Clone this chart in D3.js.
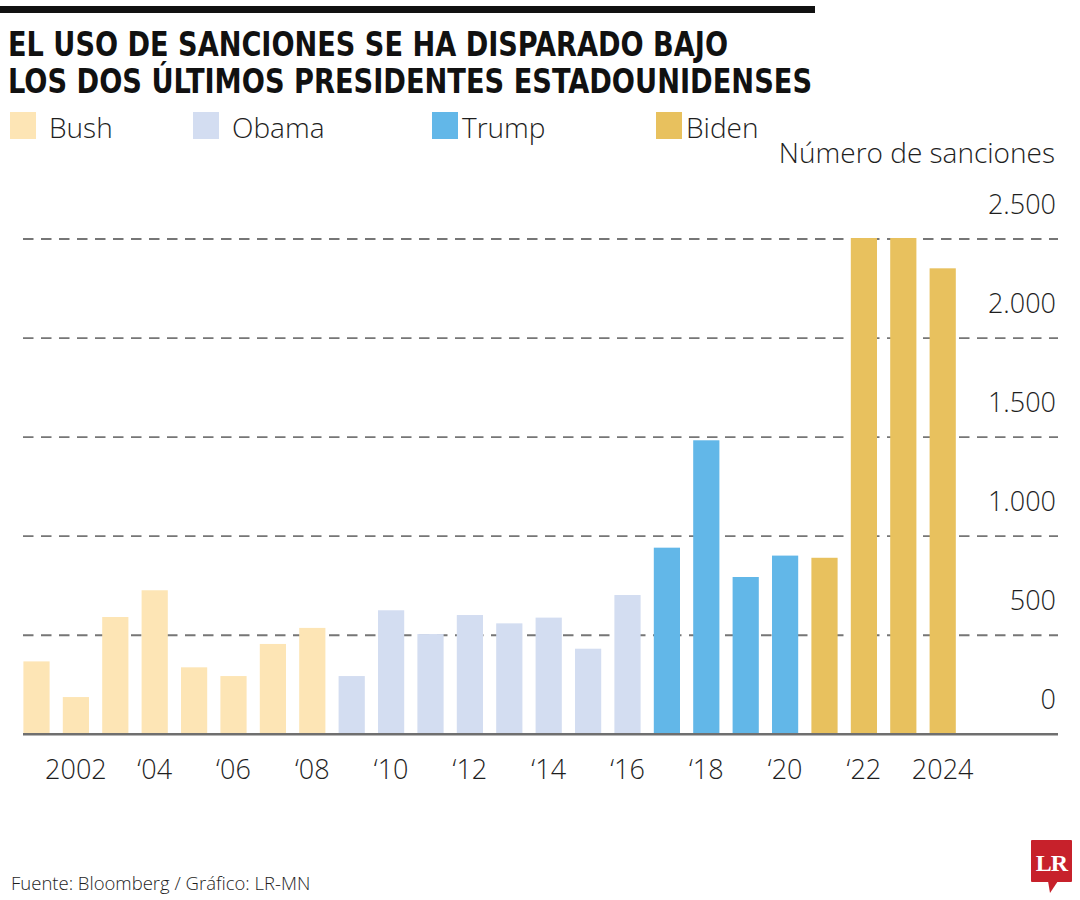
<!DOCTYPE html>
<html>
<head>
<meta charset="utf-8">
<script src="https://cdn.jsdelivr.net/npm/d3@7"></script>
<style>
  html, body { margin: 0; padding: 0; background: #fff; }
  svg { display: block; }
  .lt { font-family: "Open Sans", "Noto Sans", sans-serif; font-weight: 300; fill: #1e1e1e; }
</style>
</head>
<body>
<svg id="chart" width="1080" height="900"></svg>
<script>
// ---- Data ----
const years = [2001,2002,2003,2004,2005,2006,2007,2008,2009,2010,2011,2012,2013,2014,2015,2016,2017,2018,2019,2020,2021,2022,2023,2024];
const sanctions = [368,188,592,727,338,294,456,537,294,626,506,602,560,589,432,703,942,1484,794,902,891,2505,2505,2352];
const presidents = ["Bush","Obama","Trump","Biden"];
const presidentColors = ["#FDE5B5","#D3DDF1","#62B7E8","#E8C15E"];
const termStart = [2001,2009,2017,2021];
const yTicks = [0,500,1000,1500,2000,2500];
const xTickYears = [2002,2004,2006,2008,2010,2012,2014,2016,2018,2020,2022,2024];
const xTickLabels = ["2002","\u201804","\u201806","\u201808","\u201810","\u201812","\u201814","\u201816","\u201818","\u201820","\u201822","2024"];
const titleLines = ["EL USO DE SANCIONES SE HA DISPARADO BAJO","LOS DOS ÚLTIMOS PRESIDENTES ESTADOUNIDENSES"];
const unitLabel = "Número de sanciones";
const sourceText = "Fuente: Bloomberg / Gráfico: LR-MN";

const fmt = v => d3.format(",")(v).replace(/,/g, ".");
const presidentOf = yr => { let p = 0; termStart.forEach((s, i) => { if (yr >= s) p = i; }); return p; };

const svg = d3.select("#chart");

// Top rule
svg.append("rect").attr("x", 0).attr("y", 6).attr("width", 815).attr("height", 7).attr("fill", "#111");

// Title
const titleX = [8, 8], titleY = [55.5, 93], titleW = [720, 804];
titleLines.forEach((t, i) => {
  svg.append("text")
    .attr("x", titleX[i]).attr("y", titleY[i])
    .attr("textLength", titleW[i]).attr("lengthAdjust", "spacingAndGlyphs")
    .style("font-family", "'Liberation Sans Narrow','DejaVu Sans Condensed','Liberation Sans',sans-serif")
    .style("font-weight", 700).style("font-size", "33px").style("fill", "#111")
    .text(t);
});

// Legend
const legX = [10, 193, 432, 656];
const legendG = svg.append("g");
presidents.forEach((p, i) => {
  legendG.append("rect").attr("x", legX[i]).attr("y", 112).attr("width", 26).attr("height", 27)
    .attr("fill", presidentColors[i]);
  legendG.append("text").attr("class", "lt")
    .attr("x", legX[i] + (i === 0 || i === 1 ? 39 : 30)).attr("y", 138)
    .style("font-size", "28px").text(p);
});

// Scales
const x = d3.scaleBand().domain(years).range([10.2, 969]).padding(0.335);
const y = d3.scaleLinear().domain([0, 2500]).range([734.3, 239]);
const gridX0 = 23, gridX1 = 1058;

// Unit label
svg.append("text").attr("class", "lt").attr("x", 1055).attr("y", 163)
  .attr("text-anchor", "end").style("font-size", "28px").text(unitLabel);

// Gridlines (dashed)
svg.append("g").selectAll("line").data(yTicks.filter(d => d > 0)).join("line")
  .attr("x1", gridX0).attr("x2", gridX1)
  .attr("y1", d => y(d)).attr("y2", d => y(d))
  .attr("stroke", "#767676").attr("stroke-width", 1.8)
  .attr("stroke-dasharray", "10.5,7.5");

// Y tick labels
svg.append("g").selectAll("text").data(yTicks).join("text")
  .attr("class", "lt").attr("x", 1056).attr("y", d => y(d) - 25)
  .attr("text-anchor", "end").style("font-size", "27px")
  .text(d => fmt(d));

// Bars
svg.append("g").selectAll("rect").data(years).join("rect")
  .attr("x", d => x(d)).attr("width", x.bandwidth())
  .attr("y", (d, i) => y(sanctions[i]))
  .attr("height", (d, i) => y(0) - y(sanctions[i]))
  .attr("fill", d => presidentColors[presidentOf(d)]);

// Baseline
svg.append("line").attr("x1", gridX0).attr("x2", gridX1)
  .attr("y1", y(0)).attr("y2", y(0))
  .attr("stroke", "#6f6f6f").attr("stroke-width", 2.4);

// X tick labels
svg.append("g").selectAll("text").data(xTickYears).join("text")
  .attr("class", "lt")
  .attr("x", d => x(d) + x.bandwidth() / 2).attr("y", 779)
  .attr("text-anchor", "middle").style("font-size", "27px")
  .text((d, i) => xTickLabels[i]);

// Source
svg.append("text").attr("class", "lt").attr("x", 11).attr("y", 890)
  .style("font-size", "18.5px").text(sourceText);

// LR logo
const logo = svg.append("g");
logo.append("rect").attr("x", 1031).attr("y", 840).attr("width", 41).attr("height", 42).attr("fill", "#C7212B").attr("rx", 1);
logo.append("path").attr("d", "M1048,881 L1058,881 L1050,893 Z").attr("fill", "#C7212B");
logo.append("text").attr("x", 1051.5).attr("y", 871).attr("text-anchor", "middle")
  .style("font-family", "'Liberation Serif','DejaVu Serif',serif").style("font-weight", 700)
  .style("font-size", "24px").style("fill", "#fff").style("letter-spacing", "-1px").text("LR");
</script>
</body>
</html>
